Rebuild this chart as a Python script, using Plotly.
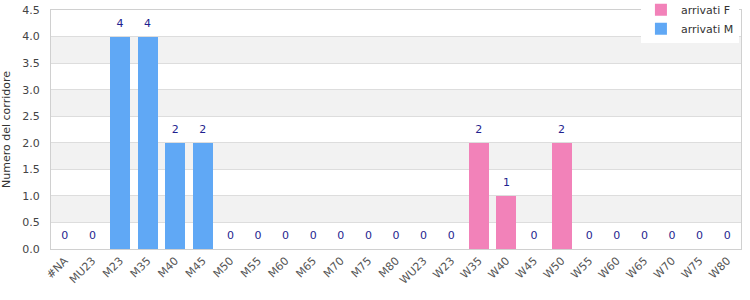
import plotly.graph_objects as go

categories = ["#NA", "MU23", "M23", "M35", "M40", "M45", "M50", "M55", "M60", "M65",
              "M70", "M75", "M80", "WU23", "W23", "W35", "W40", "W45", "W50", "W55",
              "W60", "W65", "W70", "W75", "W80"]
arrivati_M = [0, 0, 4, 4, 2, 2, 0, 0, 0, 0, 0, 0, 0, 0, 0, 0, 0, 0, 0, 0, 0, 0, 0, 0, 0]
arrivati_F = [0, 0, 0, 0, 0, 0, 0, 0, 0, 0, 0, 0, 0, 0, 0, 2, 1, 0, 2, 0, 0, 0, 0, 0, 0]
totals = [m + f for m, f in zip(arrivati_M, arrivati_F)]

y_max = 4.5
y_step = 0.5

fig = go.Figure()
fig.add_trace(go.Bar(x=categories, y=arrivati_F, name="arrivati F",
                     marker=dict(color="#f282b9", line=dict(width=0))))
fig.add_trace(go.Bar(x=categories, y=arrivati_M, name="arrivati M",
                     marker=dict(color="#60a8f5", line=dict(width=0))))
fig.add_trace(go.Scatter(x=categories, y=totals, mode="markers+text",
                         marker=dict(size=10, color="rgba(0,0,0,0)"),
                         text=[str(t) for t in totals], textposition="top center",
                         textfont=dict(family="DejaVu Sans", size=11, color="#1f1f8f"),
                         showlegend=False, hoverinfo="skip"))

# alternating background bands
shapes = []
n = int(round(y_max / y_step))
for i in range(n):
    if i % 2 == 1:
        shapes.append(dict(type="rect", xref="paper", x0=0, x1=1, yref="y",
                           y0=i * y_step, y1=(i + 1) * y_step,
                           fillcolor="#f2f2f2", line=dict(width=0), layer="below"))

fig.update_layout(
    width=750, height=300,
    margin=dict(l=51, r=9, t=10, b=51, autoexpand=False),
    barmode="stack", bargap=0.27,
    plot_bgcolor="white", paper_bgcolor="white",
    font=dict(family="DejaVu Sans", size=11, color="#444"),
    shapes=shapes,
    legend=dict(x=0.997, y=1.062, xanchor="right", yanchor="top",
                bgcolor="white", font=dict(size=11, color="#333"),
                traceorder="normal", itemwidth=30, tracegroupgap=0),
    xaxis=dict(tickangle=-45, showline=True, linecolor="#d0d0d0", mirror=True,
               showgrid=False, ticks="", automargin=False,
               range=[-0.5, len(categories) - 0.5],
               tickfont=dict(size=11, color="#555")),
    yaxis=dict(title=dict(text="Numero del corridore", font=dict(size=11, color="#333"),
                          standoff=14),
               range=[0, y_max], dtick=y_step, tickformat=".1f", automargin=False,
               ticklabelstandoff=8,
               showline=True, linecolor="#d0d0d0", mirror=True,
               gridcolor="#dddddd", zeroline=False, ticks="",
               tickfont=dict(size=11, color="#444")),
)

fig.write_html("out.html")
